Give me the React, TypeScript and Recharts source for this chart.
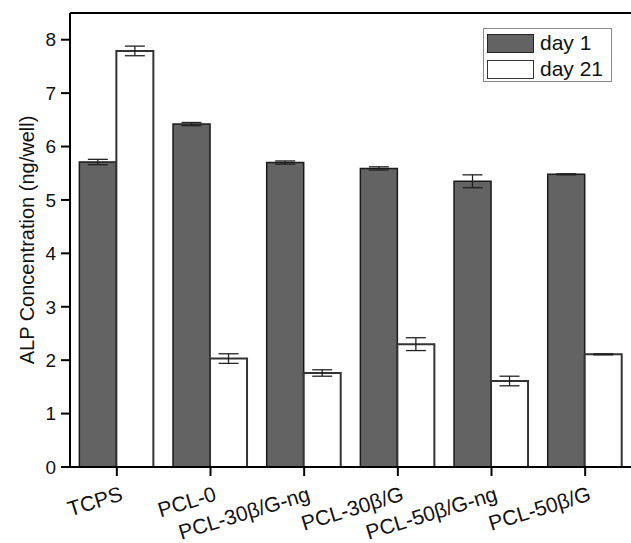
import { Bar, BarChart, ErrorBar, Label, ReferenceLine, XAxis, YAxis } from "recharts";

const categories = ["TCPS", "PCL-0", "PCL-30β/G-ng", "PCL-30β/G", "PCL-50β/G-ng", "PCL-50β/G"];
const day1 = [5.71, 6.42, 5.7, 5.59, 5.35, 5.48];
const day1Err = [0.05, 0.03, 0.03, 0.03, 0.12, 0.01];
const day21 = [7.79, 2.03, 1.76, 2.3, 1.61, 2.11];
const day21Err = [0.09, 0.09, 0.06, 0.12, 0.09, 0.01];
const yTicks = [0, 1, 2, 3, 4, 5, 6, 7, 8];

const data = categories.map((name, i) => ({
  name,
  day1: day1[i],
  day1Err: day1Err[i],
  day21: day21[i],
  day21Err: day21Err[i],
}));

const FONT = "'Liberation Sans', Arial, sans-serif";

function XTick({ x, y, payload }: any) {
  return (
    <g transform={`translate(${x + 7},${y + 22}) rotate(-17)`}>
      <text textAnchor="end" fontSize={21} fontFamily={FONT} fill="#111">
        {payload.value}
      </text>
    </g>
  );
}

// legend is drawn as a plain overlay so it does not shrink the plot
function LegendBox() {
  const row = (fill: string, stroke: string, label: string) => (
    <div style={{ display: "flex", alignItems: "center", height: 26 }}>
      <div style={{ width: 45, height: 17, background: fill, border: `1.5px solid ${stroke}`, marginRight: 6 }} />
      <span style={{ fontSize: 21, fontFamily: FONT, color: "#111" }}>{label}</span>
    </div>
  );
  return (
    <div
      style={{
        position: "absolute",
        left: 483,
        top: 28,
        width: 129,
        height: 54,
        border: "1px solid #8a8a8a",
        padding: "1px 0 0 3px",
        boxSizing: "border-box",
        background: "#fff",
      }}
    >
      {row("#636363", "#222", "day 1")}
      {row("#ffffff", "#333", "day 21")}
    </div>
  );
}

export default function App() {
  return (
    <div style={{ position: "absolute", left: 0, top: 0, width: 631, height: 543, overflow: "hidden", background: "#fff" }}>
      <BarChart
        width={640}
        height={543}
        data={data}
        margin={{ top: 13, right: 8, left: 0, bottom: 0 }}
        barCategoryGap="10%"
        barGap={0}
      >
        <XAxis
          dataKey="name"
          height={76}
          tick={<XTick />}
          tickSize={9}
          tickLine={{ stroke: "#000", strokeWidth: 2 }}
          axisLine={{ stroke: "#000", strokeWidth: 2 }}
          interval={0}
        />
        <YAxis
          width={70}
          domain={[0, 8.5]}
          ticks={yTicks}
          tickSize={9}
          tickMargin={5}
          tick={{ fill: "#111", fontSize: 19, fontFamily: FONT }}
          tickLine={{ stroke: "#000", strokeWidth: 2 }}
          axisLine={{ stroke: "#000", strokeWidth: 2 }}
        >
          <Label
            content={({ viewBox }: any) => {
              const cx = viewBox.x + 27;
              const cy = viewBox.y + viewBox.height / 2;
              return (
                <text
                  transform={`translate(${cx},${cy}) rotate(-90)`}
                  textAnchor="middle"
                  dominantBaseline="central"
                  fontSize={20}
                  fontFamily={FONT}
                  fill="#111"
                >
                  ALP Concentration (ng/well)
                </text>
              );
            }}
          />
        </YAxis>
        <ReferenceLine y={8.5} stroke="#000" strokeWidth={2} />
        <Bar dataKey="day1" name="day 1" fill="#636363" stroke="#1a1a1a" strokeWidth={1.5} isAnimationActive={false}>
          <ErrorBar dataKey="day1Err" width={10} stroke="#222" strokeWidth={1.3} direction="y" isAnimationActive={false} />
        </Bar>
        <Bar dataKey="day21" name="day 21" fill="#ffffff" stroke="#333" strokeWidth={2} isAnimationActive={false}>
          <ErrorBar dataKey="day21Err" width={10} stroke="#222" strokeWidth={1.3} direction="y" isAnimationActive={false} />
        </Bar>
      </BarChart>
      <LegendBox />
    </div>
  );
}
